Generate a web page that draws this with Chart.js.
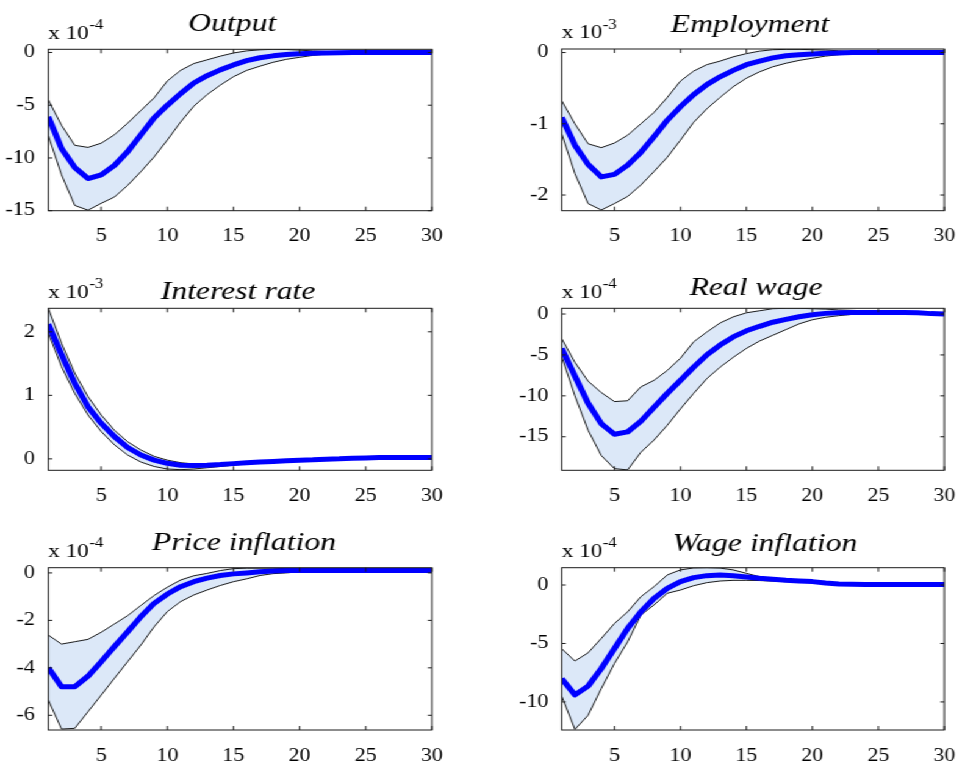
<!DOCTYPE html>
<html>
<head>
<meta charset="utf-8">
<script src="https://cdn.jsdelivr.net/npm/chart.js@4/dist/chart.umd.min.js"></script>
<style>
  html, body { margin: 0; padding: 0; background: #ffffff; }
  #figure {
    position: absolute; left: 0; top: 0;
    width: 789px; height: 762px;
    transform: scaleX(1.22); transform-origin: 0 0;
  }
  #figure canvas { position: absolute; }
</style>
</head>
<body>
<div id="figure"></div>
<script>
// Impulse responses over 30 quarters: median (thick blue) and error band (shaded, thin black bounds)
const horizons = [1, 2, 3, 4, 5, 6, 7, 8, 9, 10, 11, 12, 13, 14, 15,
                  16, 17, 18, 19, 20, 21, 22, 23, 24, 25, 26, 27, 28, 29, 30];
const xTickValues = [5, 10, 15, 20, 25, 30];

// Output (x 10^-4)
const outputMedian = [-6.1, -9.1, -10.9, -11.95, -11.6, -10.7, -9.4, -7.8, -6.2, -5.0, -3.9, -2.9, -2.2, -1.65, -1.18,
                      -0.78, -0.5, -0.32, -0.2, -0.12, -0.07, -0.04, -0.02, -0.01, 0, 0, 0, 0, 0, 0];
const outputUpper  = [-4.5, -6.9, -8.8, -9.0, -8.6, -7.8, -6.7, -5.5, -4.3, -2.7, -1.7, -1.05, -0.7, -0.35, -0.05,
                      0.15, 0.25, 0.3, 0.28, 0.22, 0.15, 0.1, 0.07, 0.05, 0.03, 0.02, 0.01, 0.01, 0, 0];
const outputLower  = [-7.9, -11.6, -14.5, -14.95, -14.3, -13.7, -12.6, -11.3, -9.9, -8.3, -6.6, -5.1, -4.0, -3.1, -2.3,
                      -1.7, -1.3, -0.93, -0.65, -0.46, -0.28, -0.15, -0.07, -0.03, -0.01, 0, 0, 0, 0, 0];
const outputTicks  = [-15, -10, -5, 0];

// Employment (x 10^-3)
const employmentMedian = [-0.91, -1.3, -1.57, -1.745, -1.71, -1.58, -1.4, -1.18, -0.95, -0.76, -0.59, -0.45, -0.34, -0.25, -0.17,
                          -0.12, -0.075, -0.045, -0.03, -0.02, -0.01, -0.005, 0, 0, 0, 0, 0, 0, 0, 0];
const employmentUpper  = [-0.675, -1.0, -1.28, -1.335, -1.27, -1.16, -1.0, -0.84, -0.63, -0.4, -0.26, -0.17, -0.12, -0.06, -0.015,
                          0.02, 0.04, 0.045, 0.045, 0.04, 0.035, 0.025, 0.015, 0.01, 0.005, 0, 0, 0, 0, 0];
const employmentLower  = [-1.14, -1.7, -2.12, -2.21, -2.12, -2.02, -1.86, -1.67, -1.47, -1.23, -0.98, -0.79, -0.63, -0.48, -0.36,
                          -0.27, -0.2, -0.15, -0.11, -0.08, -0.05, -0.03, -0.015, -0.007, -0.003, 0, 0, 0, 0, 0];
const employmentTicks  = [-2, -1, 0];

// Interest rate (x 10^-3)
const interestMedian = [2.12, 1.64, 1.19, 0.82, 0.56, 0.35, 0.18, 0.06, -0.02, -0.07, -0.1, -0.105, -0.1, -0.09, -0.075,
                        -0.06, -0.05, -0.04, -0.03, -0.02, -0.015, -0.005, 0, 0.01, 0.015, 0.02, 0.02, 0.02, 0.02, 0.02];
const interestUpper  = [2.37, 1.82, 1.35, 0.98, 0.69, 0.45, 0.27, 0.14, 0.04, -0.02, -0.06, -0.08, -0.085, -0.08, -0.065,
                        -0.05, -0.04, -0.03, -0.02, -0.01, -0.005, 0.005, 0.01, 0.02, 0.025, 0.03, 0.03, 0.03, 0.03, 0.03];
const interestLower  = [1.98, 1.45, 1.03, 0.69, 0.43, 0.22, 0.06, -0.05, -0.12, -0.16, -0.17, -0.16, -0.14, -0.12, -0.1,
                        -0.08, -0.065, -0.05, -0.04, -0.03, -0.025, -0.015, -0.01, 0, 0.005, 0.01, 0.01, 0.01, 0.01, 0.01];
const interestTicks  = [0, 1, 2];

// Real wage (x 10^-4)
const realWageMedian = [-4.2, -7.6, -10.9, -13.4, -14.7, -14.4, -13.1, -11.4, -9.7, -8.1, -6.5, -5.0, -3.8, -2.8, -2.05,
                        -1.5, -1.0, -0.65, -0.33, -0.08, 0.08, 0.15, 0.18, 0.2, 0.2, 0.2, 0.18, 0.15, 0.05, 0];
const realWageUpper  = [-3.0, -5.9, -8.2, -9.6, -10.7, -10.6, -8.9, -8.1, -6.9, -5.4, -3.4, -2.2, -1.1, -0.35, 0.15,
                        0.4, 0.65, 0.7, 0.7, 0.65, 0.6, 0.5, 0.45, 0.4, 0.35, 0.3, 0.28, 0.25, 0.2, 0.1];
const realWageLower  = [-5.2, -10.0, -14.2, -17.3, -18.9, -19.05, -16.9, -15.4, -13.6, -11.6, -9.7, -7.9, -6.5, -5.3, -4.2,
                        -3.3, -2.6, -1.9, -1.2, -0.7, -0.4, -0.2, -0.05, 0, 0.05, 0.08, 0.08, 0.08, 0.05, 0];
const realWageTicks  = [-15, -10, -5, 0];

// Price inflation (x 10^-4)
const priceInflMedian = [-4.0, -4.8, -4.8, -4.35, -3.74, -3.1, -2.48, -1.84, -1.28, -0.89, -0.58, -0.37, -0.22, -0.11, -0.04,
                         0, 0.05, 0.08, 0.1, 0.1, 0.1, 0.1, 0.1, 0.1, 0.1, 0.1, 0.1, 0.1, 0.1, 0.1];
const priceInflUpper  = [-2.62, -3.0, -2.9, -2.8, -2.5, -2.15, -1.8, -1.37, -0.95, -0.6, -0.3, -0.12, -0.02, 0.1, 0.18,
                         0.2, 0.2, 0.2, 0.18, 0.15, 0.13, 0.12, 0.11, 0.1, 0.1, 0.1, 0.1, 0.1, 0.1, 0.1];
const priceInflLower  = [-5.36, -6.58, -6.55, -5.85, -5.15, -4.44, -3.74, -3.04, -2.27, -1.63, -1.21, -0.93, -0.72, -0.53, -0.37,
                         -0.25, -0.11, -0.03, 0, 0.05, 0.07, 0.08, 0.08, 0.08, 0.08, 0.08, 0.08, 0.08, 0.08, 0.08];
const priceInflTicks  = [-6, -4, -2, 0];

// Wage inflation (x 10^-4)
const wageInflMedian = [-8.0, -9.4, -8.65, -7.14, -5.43, -3.71, -2.29, -1.14, -0.29, 0.29, 0.63, 0.8, 0.86, 0.8, 0.69,
                        0.57, 0.49, 0.4, 0.34, 0.29, 0.17, 0.09, 0.06, 0.05, 0.05, 0.05, 0.05, 0.05, 0.05, 0.05];
const wageInflUpper  = [-5.45, -6.5, -5.8, -4.57, -3.29, -2.29, -1.0, -0.14, 0.86, 1.29, 1.46, 1.48, 1.45, 1.29, 1.0,
                        0.71, 0.51, 0.42, 0.36, 0.3, 0.2, 0.12, 0.08, 0.07, 0.07, 0.07, 0.07, 0.07, 0.07, 0.07];
const wageInflLower  = [-9.5, -12.35, -11.14, -8.86, -6.71, -4.86, -2.57, -1.71, -0.71, -0.43, -0.06, 0.2, 0.34, 0.4, 0.4,
                        0.38, 0.33, 0.28, 0.22, 0.2, 0.12, 0.06, 0.04, 0.03, 0.03, 0.03, 0.03, 0.03, 0.03, 0.03];
const wageInflTicks  = [-10, -5, 0];

const panelTitles = ['Output', 'Employment', 'Interest rate', 'Real wage', 'Price inflation', 'Wage inflation'];
const panelExponents = ['-4', '-3', '-3', '-4', '-4', '-4'];

// ---- layout & style ----
const STRETCH = 1.22;                 // horizontal stretch applied to #figure
const SERIF = '"Liberation Serif", "Times New Roman", serif';
const BAND_FILL = 'rgb(220, 232, 248)';
const MEDIAN_COLOR = '#0000ff';

const panels = [
  { title: panelTitles[0], exp: panelExponents[0], mid: outputMedian, hi: outputUpper, lo: outputLower,
    yTicks: outputTicks, yMin: -15, yMax: 0.3, area: [48.3, 49.3, 433.3, 210.7], titleGap: 18.8, titleDx: -8 },
  { title: panelTitles[1], exp: panelExponents[1], mid: employmentMedian, hi: employmentUpper, lo: employmentLower,
    yTicks: employmentTicks, yMin: -2.22, yMax: 0.05, area: [561.7, 49.0, 946.7, 210.7], titleGap: 17, titleDx: -3 },
  { title: panelTitles[2], exp: panelExponents[2], mid: interestMedian, hi: interestUpper, lo: interestLower,
    yTicks: interestTicks, yMin: -0.18, yMax: 2.37, area: [48.3, 308.3, 433.3, 470.3], titleGap: 9.3, titleDx: -2 },
  { title: panelTitles[3], exp: panelExponents[3], mid: realWageMedian, hi: realWageUpper, lo: realWageLower,
    yTicks: realWageTicks, yMin: -19.1, yMax: 0.7, area: [561.7, 308.3, 946.7, 470.3], titleGap: 13.3, titleDx: 3 },
  { title: panelTitles[4], exp: panelExponents[4], mid: priceInflMedian, hi: priceInflUpper, lo: priceInflLower,
    yTicks: priceInflTicks, yMin: -6.62, yMax: 0.22, area: [48.3, 567.7, 433.3, 730], titleGap: 17.7, titleDx: 4 },
  { title: panelTitles[5], exp: panelExponents[5], mid: wageInflMedian, hi: wageInflUpper, lo: wageInflLower,
    yTicks: wageInflTicks, yMin: -12.4, yMax: 1.48, area: [561.7, 567.7, 946.7, 730], titleGap: 16.7, titleDx: 12 }
];

// Box frame, inward tick marks on all four sides, title and "x 10^n" exponent label
const matlabFrame = {
  id: 'matlabFrame',
  afterDatasetsDraw(chart, args, opts) {
    const { ctx, chartArea: a, scales: { x, y } } = chart;
    ctx.save();
    ctx.strokeStyle = '#1a1a1a';
    ctx.lineWidth = 1;
    ctx.beginPath();
    x.ticks.forEach(t => {
      const px = x.getPixelForValue(t.value);
      ctx.moveTo(px, a.bottom); ctx.lineTo(px, a.bottom - 4);
      ctx.moveTo(px, a.top); ctx.lineTo(px, a.top + 4);
    });
    y.ticks.forEach(t => {
      const py = y.getPixelForValue(t.value);
      ctx.moveTo(a.left, py); ctx.lineTo(a.left + 3.3, py);
      ctx.moveTo(a.right, py); ctx.lineTo(a.right - 3.3, py);
    });
    ctx.stroke();
    ctx.strokeRect(a.left, a.top, a.right - a.left, a.bottom - a.top);

    ctx.fillStyle = '#000';
    ctx.textBaseline = 'alphabetic';
    ctx.font = 'italic 26px ' + SERIF;
    ctx.textAlign = 'center';
    ctx.fillText(opts.title, (a.left + a.right) / 2 + opts.titleDx / STRETCH, a.top - opts.titleGap);

    ctx.textAlign = 'left';
    ctx.font = '19px ' + SERIF;
    const base = a.top - 10.8;
    ctx.fillText('x 10', a.left, base);
    const w = ctx.measureText('x 10').width;
    ctx.font = '14px ' + SERIF;
    ctx.fillText(opts.exp, a.left + w + 0.3, base - 9.5);
    ctx.restore();
  }
};

const figure = document.getElementById('figure');

panels.forEach(p => {
  const leftU = p.area[0] / STRETCH, rightU = p.area[2] / STRETCH;
  const top = p.area[1], bottom = p.area[3];
  const cx = Math.floor(leftU - 46), cy = Math.floor(top - 46);
  const cw = Math.ceil(rightU - cx + 14), ch = Math.ceil(bottom - cy + 36);
  const yAxisW = leftU - cx;
  const padTop = top - cy;
  const padRight = cw - (rightU - cx);
  const xAxisH = ch - (bottom - cy);

  const canvas = document.createElement('canvas');
  canvas.width = cw; canvas.height = ch;
  canvas.style.left = cx + 'px'; canvas.style.top = cy + 'px';
  canvas.style.width = cw + 'px'; canvas.style.height = ch + 'px';
  figure.appendChild(canvas);

  const pts = arr => horizons.map((h, i) => ({ x: h, y: arr[i] }));

  new Chart(canvas, {
    type: 'line',
    data: {
      datasets: [
        { label: 'median', data: pts(p.mid), borderColor: MEDIAN_COLOR, borderWidth: 5,
          pointRadius: 0, fill: false, tension: 0, borderJoinStyle: 'round' },
        { label: 'upper', data: pts(p.hi), borderColor: '#000', borderWidth: 0.9,
          pointRadius: 0, fill: '+1', backgroundColor: BAND_FILL, tension: 0 },
        { label: 'lower', data: pts(p.lo), borderColor: '#000', borderWidth: 0.9,
          pointRadius: 0, fill: false, tension: 0 }
      ]
    },
    options: {
      responsive: false,
      animation: false,
      events: [],
      layout: { padding: { left: 0, top: padTop, right: padRight, bottom: 0 } },
      scales: {
        x: {
          type: 'linear', min: 1, max: 30,
          afterBuildTicks: s => { s.ticks = xTickValues.map(v => ({ value: v })); },
          afterFit: s => { s.height = xAxisH; },
          grid: { display: false }, border: { display: false },
          ticks: { autoSkip: false, maxRotation: 0, padding: 7, color: '#000',
                   font: { family: SERIF, size: 18 }, callback: v => String(v) }
        },
        y: {
          type: 'linear', min: p.yMin, max: p.yMax,
          afterBuildTicks: s => { s.ticks = p.yTicks.map(v => ({ value: v })); },
          afterFit: s => { s.width = yAxisW; },
          grid: { display: false }, border: { display: false },
          ticks: { autoSkip: false, padding: 3, color: '#000',
                   font: { family: SERIF, size: 18 }, callback: v => String(v) }
        }
      },
      plugins: {
        legend: { display: false },
        tooltip: { enabled: false },
        filler: { drawTime: 'beforeDatasetsDraw' },
        matlabFrame: { title: p.title, exp: p.exp, titleGap: p.titleGap, titleDx: p.titleDx }
      }
    },
    plugins: [matlabFrame]
  });
});
</script>
</body>
</html>
